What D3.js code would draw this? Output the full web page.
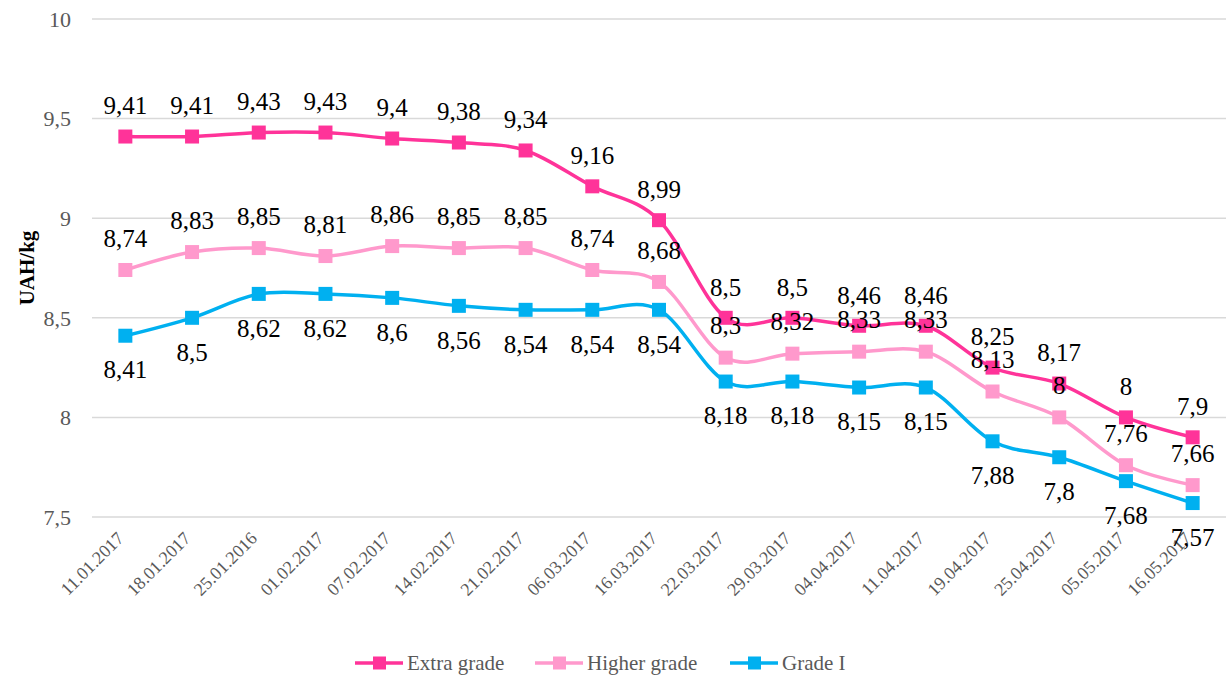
<!DOCTYPE html>
<html>
<head>
<meta charset="utf-8">
<script src="https://cdn.jsdelivr.net/npm/d3@7"></script>
<style>
  body { margin: 0; background: #fff; }
</style>
</head>
<body>
<div id="chart"></div>
<script>
var dates = ["11.01.2017", "18.01.2017", "25.01.2016", "01.02.2017", "07.02.2017", "14.02.2017",
  "21.02.2017", "06.03.2017", "16.03.2017", "22.03.2017", "29.03.2017", "04.04.2017",
  "11.04.2017", "19.04.2017", "25.04.2017", "05.05.2017", "16.05.2017"];

var extraGrade = [9.41, 9.41, 9.43, 9.43, 9.4, 9.38, 9.34, 9.16, 8.99, 8.5, 8.5, 8.46, 8.46, 8.25, 8.17, 8, 7.9];
var higherGrade = [8.74, 8.83, 8.85, 8.81, 8.86, 8.85, 8.85, 8.74, 8.68, 8.3, 8.32, 8.33, 8.33, 8.13, 8, 7.76, 7.66];
var gradeOne = [8.41, 8.5, 8.62, 8.62, 8.6, 8.56, 8.54, 8.54, 8.54, 8.18, 8.18, 8.15, 8.15, 7.88, 7.8, 7.68, 7.57];

var yTicks = [7.5, 8, 8.5, 9, 9.5, 10];

var series = [
  { name: "Extra grade", values: extraGrade, color: "#ff3399", labelDy: -31 },
  { name: "Higher grade", values: higherGrade, color: "#ff99cc", labelDy: -32 },
  { name: "Grade I", values: gradeOne, color: "#00b0f0", labelDy: 34 }
];

var svgWidth = 1229;
var svgHeight = 681;

var svg = d3.select("#chart")
  .append("svg")
  .attr("width", svgWidth)
  .attr("height", svgHeight)
  .attr("font-family", "'Liberation Serif', 'Times New Roman', serif");

var xScale = d3.scaleBand()
  .domain(dates)
  .range([92, 1226]);

var yScale = d3.scaleLinear()
  .domain([7.5, 10])
  .range([517, 19]);

var fmt = function(v) { return String(v).replace(".", ","); };
var cx = function(d, i) { return xScale(dates[i]) + xScale.bandwidth() / 2; };

// gridlines
svg.append("g")
  .selectAll("line")
  .data(yTicks)
  .enter()
  .append("line")
  .attr("x1", 92)
  .attr("x2", 1226)
  .attr("y1", d => yScale(d))
  .attr("y2", d => yScale(d))
  .attr("stroke", "#d9d9d9")
  .attr("stroke-width", 1.5);

// y tick labels
svg.append("g")
  .selectAll("text")
  .data(yTicks)
  .enter()
  .append("text")
  .attr("x", 71)
  .attr("y", d => yScale(d))
  .attr("dy", "0.35em")
  .attr("text-anchor", "end")
  .attr("fill", "#595959")
  .attr("font-size", 22)
  .text(d => fmt(d));

// x tick labels
svg.append("g")
  .selectAll("text")
  .data(dates)
  .enter()
  .append("text")
  .attr("transform", d => `translate(${xScale(d) + xScale.bandwidth() / 2 - 5}, 535) rotate(-45)`)
  .attr("text-anchor", "end")
  .attr("dy", "0.35em")
  .attr("fill", "#595959")
  .attr("font-size", 18)
  .text(d => d);

// y axis title
svg.append("text")
  .attr("transform", "translate(34, 268) rotate(-90)")
  .attr("text-anchor", "middle")
  .attr("font-weight", "bold")
  .attr("font-size", 21)
  .attr("fill", "#000")
  .text("UAH/kg");

var line = d3.line()
  .x(cx)
  .y(d => yScale(d))
  .curve(d3.curveCatmullRom.alpha(0));

series.forEach(function(s) {
  var g = svg.append("g");

  g.append("path")
    .datum(s.values)
    .attr("d", line)
    .attr("fill", "none")
    .attr("stroke", s.color)
    .attr("stroke-width", 3.5);

  g.selectAll("rect")
    .data(s.values)
    .enter()
    .append("rect")
    .attr("x", (d, i) => cx(d, i) - 7)
    .attr("y", d => yScale(d) - 7)
    .attr("width", 14)
    .attr("height", 14)
    .attr("fill", s.color);
});

// data labels drawn after all lines
series.forEach(function(s) {
  svg.append("g")
    .selectAll("text")
    .data(s.values)
    .enter()
    .append("text")
    .attr("x", cx)
    .attr("y", d => yScale(d) + s.labelDy)
    .attr("dy", "0.35em")
    .attr("text-anchor", "middle")
    .attr("fill", "#000")
    .attr("font-size", 25)
    .text(d => fmt(d));
});

// legend
var legendX = [355, 535, 730];
var legend = svg.append("g")
  .selectAll("g")
  .data(series)
  .enter()
  .append("g")
  .attr("transform", (d, i) => `translate(${legendX[i]}, 663)`);

legend.append("line")
  .attr("x1", 0)
  .attr("x2", 48)
  .attr("stroke", d => d.color)
  .attr("stroke-width", 3.5);

legend.append("rect")
  .attr("x", 18)
  .attr("y", -6.5)
  .attr("width", 13)
  .attr("height", 13)
  .attr("fill", d => d.color);

legend.append("text")
  .attr("x", 52)
  .attr("dy", "0.35em")
  .attr("fill", "#595959")
  .attr("font-size", 21)
  .text(d => d.name);
</script>
</body>
</html>
